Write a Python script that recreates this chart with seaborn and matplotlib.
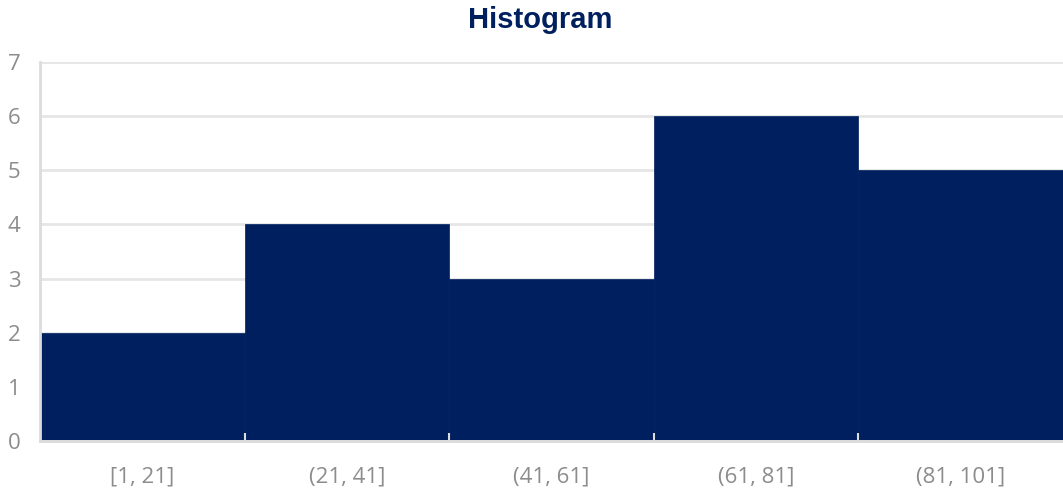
import matplotlib
matplotlib.use("Agg")
import matplotlib.pyplot as plt
import seaborn as sns

# Dados do histograma
LIMITES = [1, 21, 41, 61, 81, 101]
CENTROS = [11, 31, 51, 71, 91]
CONTAGENS = [2, 4, 3, 6, 5]
ROTULOS = ["[1, 21]", "(21, 41]", "(41, 61]", "(61, 81]", "(81, 101]"]

COR_BARRA = "#001f5f"
COR_GRELHA = "#e6e6e6"
COR_TEXTO = "#8c8c8c"

sns.set_theme(style="white")
plt.rcParams['font.family'] = ['Open Sans', 'DejaVu Sans']

fig = plt.figure(figsize=(10.63, 4.92), dpi=100)
ax = fig.add_axes([40 / 1063, 51 / 492, 1 - 40 / 1063, (441 - 62) / 492])

sns.histplot(x=CENTROS, weights=CONTAGENS, bins=LIMITES, ax=ax,
             color=COR_BARRA, alpha=1, edgecolor=COR_BARRA, linewidth=0.5, zorder=2)

ax.set_xlim(1, 101)
ax.set_ylim(0, 7)
ax.set_yticks(range(0, 8))
ax.set_xlabel("")
ax.set_ylabel("")

ax.set_xticks(CENTROS)
ax.set_xticklabels(ROTULOS)
ax.tick_params(axis='x', length=0, pad=18, labelsize=16, labelcolor=COR_TEXTO)
ax.tick_params(axis='y', length=0, pad=14, labelsize=16, labelcolor=COR_TEXTO)

ax.grid(axis='y', color=COR_GRELHA, linewidth=2, zorder=0)
ax.set_axisbelow(True)
for lado in ['top', 'right']:
    ax.spines[lado].set_visible(False)
for lado in ['left', 'bottom']:
    ax.spines[lado].set_color("#dcdcdc")
    ax.spines[lado].set_linewidth(2)
    ax.spines[lado].set_zorder(3)

# marcas nos limites das classes, por cima das barras
sec = ax.secondary_xaxis('bottom')
sec.set_zorder(5)
sec.set_xticks(LIMITES[1:-1])
sec.set_xticklabels([])
sec.tick_params(axis='x', bottom=True, direction='in', length=6, width=1.5, color="#dcdcdc")
sec.spines['bottom'].set_color("#dcdcdc")
sec.spines['bottom'].set_linewidth(2)

fig.text(540 / 1063, 1 - 20 / 492, "Histogram", ha='center', va='center',
         fontsize=21, fontweight='bold', color=COR_BARRA, family=['Liberation Sans', 'DejaVu Sans'])

plt.savefig("out.png", dpi=100)
